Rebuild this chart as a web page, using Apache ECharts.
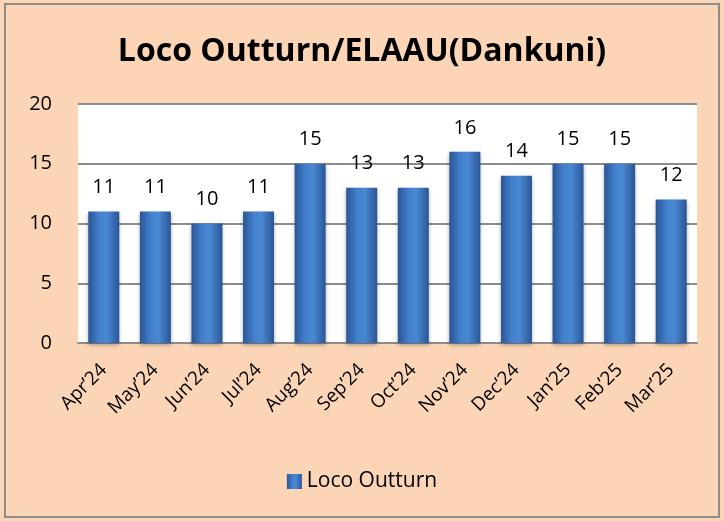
<!DOCTYPE html>
<html><head><meta charset="utf-8">
<script src="https://cdn.jsdelivr.net/npm/echarts@6/dist/echarts.min.js"></script>
<style>html,body{margin:0;padding:0;background:#fff}#c{width:724px;height:521px}</style>
</head><body><div id="c"></div>
<script>
var categories = ['Apr’24','May’24','Jun’24','Jul’24','Aug’24','Sep’24','Oct’24','Nov’24','Dec’24','Jan’25','Feb’25','Mar’25'];
var values = [11,11,10,11,15,13,13,16,14,15,15,12];
var seriesName = 'Loco Outturn';
var titleText = 'Loco Outturn/ELAAU(Dankuni)';

var font = "'Open Sans','Liberation Sans',sans-serif";
var barGrad = new echarts.graphic.LinearGradient(0,0,1,0,[
  {offset:0,color:'#2a5596'},{offset:0.35,color:'#4280cc'},{offset:0.6,color:'#4a88d2'},{offset:1,color:'#2a5596'}]);
var chart = echarts.init(document.getElementById('c'));
chart.setOption({
  backgroundColor:'#fbd5b5',
  animation:false,
  graphic:[{type:'rect',shape:{x:5,y:4,width:714,height:513},style:{fill:'none',stroke:'#8c8c8c',lineWidth:2}}],
  title:{text:titleText,left:'center',top:31,textStyle:{fontFamily:font,fontWeight:'bold',fontSize:32,color:'#000'}},
  grid:{left:78,right:27,top:104,bottom:178,backgroundColor:'#fff',show:true,borderWidth:0},
  legend:{bottom:24,left:'center',itemWidth:15,itemHeight:15,itemGap:6,textStyle:{fontFamily:font,fontSize:21,color:'#000'},
    data:[{name:seriesName,icon:'rect'}]},
  xAxis:{type:'category',data:categories,
    axisLine:{lineStyle:{color:'#8c8c8c',width:2}},axisTick:{show:false},
    axisLabel:{rotate:45,interval:0,fontFamily:font,fontSize:19,color:'#000',margin:24}},
  yAxis:{type:'value',min:0,max:20,interval:5,
    axisLine:{show:false},axisTick:{show:false},
    splitLine:{lineStyle:{color:'#8c8c8c',width:2}},
    axisLabel:{fontFamily:font,fontSize:20,color:'#000',margin:26}},
  series:[{name:seriesName,type:'bar',data:values,barWidth:31,
    itemStyle:{color:barGrad,shadowColor:'rgba(0,0,0,0.3)',shadowBlur:4,shadowOffsetY:2},
    label:{show:true,position:'top',distance:14,fontFamily:font,fontSize:20,color:'#000'}}]
});
</script></body></html>
